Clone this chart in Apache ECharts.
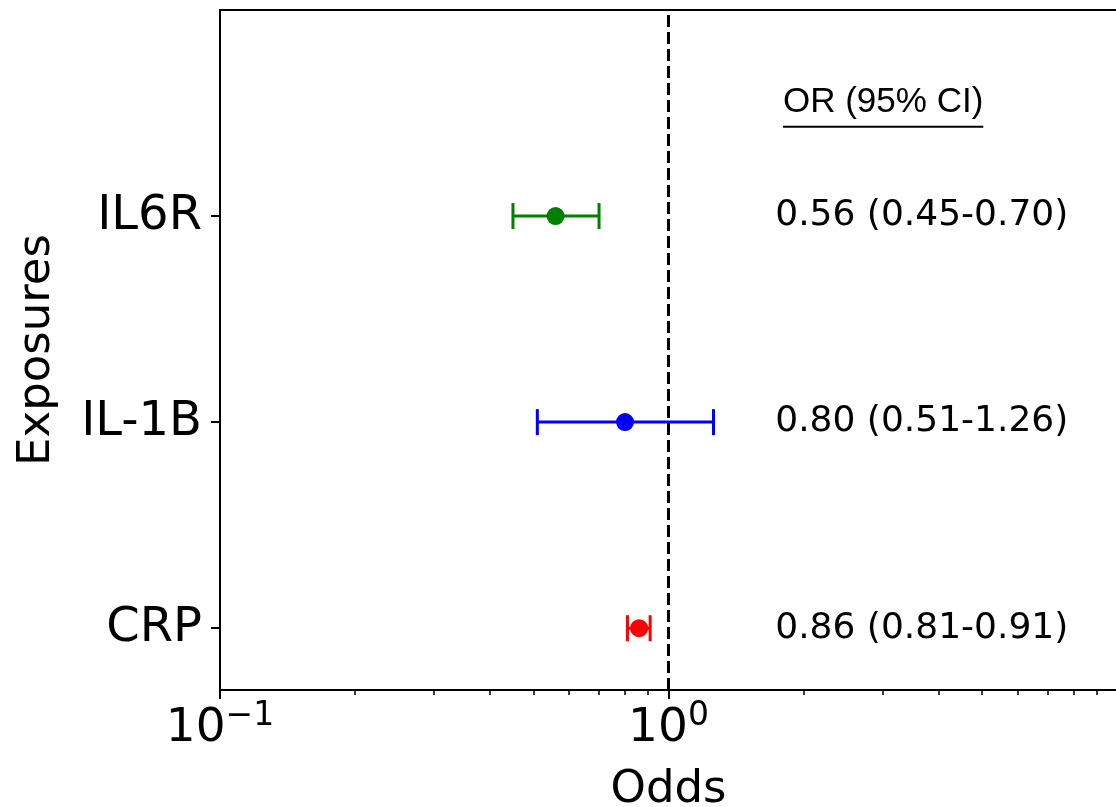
<!DOCTYPE html>
<html>
<head>
    <meta charset="utf-8">
    <title>Odds ratio forest plot</title>
    <script src="https://cdn.jsdelivr.net/npm/echarts@6/dist/echarts.min.js"></script>
</head>
<body style="margin: 0; background: #fff;">
    <div id="main" style="width: 1116px; height: 807px;"></div>
    <script type="text/javascript">
        // rows from bottom to top
        var exposures = ['CRP', 'IL-1B', 'IL6R'];
        var oddsRatio = [0.86, 0.80, 0.56];
        var ciLower = [0.81, 0.51, 0.45];
        var ciUpper = [0.91, 1.26, 0.70];
        var pointColors = ['#ff0000', '#0000ff', '#008000'];
        var orLabels = ['0.86 (0.81-0.91)', '0.80 (0.51-1.26)', '0.56 (0.45-0.70)'];
        var headerText = 'OR (95% CI)';
        var textX = 1.73;      // where the OR column starts (odds)
        var headerPos = [1.8, 2.55];
        var xMajor = [0.1, 1];
        var xMinor = [0.2, 0.3, 0.4, 0.5, 0.6, 0.7, 0.8, 0.9, 2, 3, 4, 5, 6, 7, 8, 9];
        var supers = { '0.1': '\u22121', '1': '0' };

        var FONT = '"DejaVu Sans", sans-serif';

        var dom = document.getElementById('main');
        var myChart = echarts.init(dom, null, { renderer: 'canvas' });

        var barData = exposures.map(function (name, i) {
            return [ciLower[i], ciUpper[i], i];
        });
        var pointData = exposures.map(function (name, i) {
            return { value: [oddsRatio[i], i], itemStyle: { color: pointColors[i], opacity: 1 } };
        });
        var textData = exposures.map(function (name, i) {
            return [textX, i];
        });

        var option = {
            animation: false,
            backgroundColor: '#fff',
            grid: {
                left: 220, top: 10, width: 897, height: 680,
                containLabel: false, outerBoundsMode: 'none',
                show: true, borderColor: '#000', borderWidth: 2
            },
            xAxis: [
                {
                    type: 'log', logBase: 10, min: 0.1, max: 10,
                    position: 'bottom',
                    name: 'Odds', nameLocation: 'middle', nameGap: 78,
                    nameTextStyle: { fontFamily: FONT, fontSize: 45, color: '#000' },
                    axisLine: { show: true, onZero: false, lineStyle: { color: '#000', width: 2 } },
                    axisTick: { show: true, inside: false, customValues: xMajor, length: 9, lineStyle: { color: '#000', width: 2 } },
                    axisLabel: {
                        customValues: xMajor, margin: 10,
                        formatter: function (v) {
                            var k = String(Math.round(v * 10) / 10);
                            return '{b|10}{s|' + supers[k] + '}';
                        },
                        rich: {
                            b: { fontFamily: FONT, fontSize: 47, color: '#000' },
                            s: { fontFamily: FONT, fontSize: 33, color: '#000', padding: [0, 0, 24, 0] }
                        }
                    },
                    splitLine: { show: false }
                },
                {
                    type: 'log', logBase: 10, min: 0.1, max: 10,
                    position: 'bottom',
                    axisLine: { show: false, onZero: false },
                    axisTick: { show: true, inside: false, customValues: xMinor, length: 5, lineStyle: { color: '#000', width: 1.5 } },
                    axisLabel: { show: false },
                    splitLine: { show: false }
                }
            ],
            yAxis: {
                type: 'value', min: -0.3, max: 3,
                name: 'Exposures', nameLocation: 'middle', nameGap: 160,
                nameTextStyle: { fontFamily: FONT, fontSize: 45, color: '#000' },
                axisLine: { show: true, onZero: false, lineStyle: { color: '#000', width: 2 } },
                axisTick: { show: true, customValues: [0, 1, 2], length: 9, lineStyle: { color: '#000', width: 2 } },
                axisLabel: {
                    customValues: [0, 1, 2], margin: 18,
                    fontFamily: FONT, fontSize: 48, color: '#000',
                    formatter: function (v) { return exposures[Math.round(v)] || ''; }
                },
                splitLine: { show: false }
            },
            series: [
                {
                    type: 'custom',
                    xAxisIndex: 0,
                    data: barData,
                    z: 2,
                    renderItem: function (params, api) {
                        var i = api.value(2);
                        var p0 = api.coord([api.value(0), i]);
                        var p1 = api.coord([api.value(1), i]);
                        var st = { stroke: pointColors[i], lineWidth: 3 };
                        var cap = 13;
                        return {
                            type: 'group',
                            children: [
                                { type: 'line', shape: { x1: p0[0], y1: p0[1], x2: p1[0], y2: p1[1] }, style: st },
                                { type: 'line', shape: { x1: p0[0], y1: p0[1] - cap, x2: p0[0], y2: p0[1] + cap }, style: st },
                                { type: 'line', shape: { x1: p1[0], y1: p1[1] - cap, x2: p1[0], y2: p1[1] + cap }, style: st }
                            ]
                        };
                    }
                },
                {
                    type: 'scatter',
                    xAxisIndex: 0,
                    data: pointData,
                    symbol: 'circle',
                    symbolSize: 18,
                    itemStyle: { opacity: 1 },
                    z: 3
                },
                {
                    type: 'custom',
                    xAxisIndex: 0,
                    data: textData,
                    z: 5,
                    renderItem: function (params, api) {
                        var i = api.value(1);
                        var p = api.coord([api.value(0), i]);
                        return {
                            type: 'text',
                            style: {
                                x: p[0], y: p[1], text: orLabels[i],
                                fill: '#000', font: '36px ' + FONT,
                                align: 'left', verticalAlign: 'middle'
                            }
                        };
                    },
                    markLine: {
                        silent: true,
                        symbol: 'none',
                        label: { show: false },
                        lineStyle: { color: '#000', width: 3, type: [12, 5] },
                        data: [{ xAxis: 1 }]
                    }
                },
                {
                    type: 'custom',
                    xAxisIndex: 0,
                    data: [headerPos],
                    z: 5,
                    renderItem: function (params, api) {
                        var p = api.coord([api.value(0), api.value(1)]);
                        var font = '35px "Liberation Sans", sans-serif';
                        var w = echarts.format.getTextRect
                            ? echarts.format.getTextRect(headerText, font).width
                            : 200;
                        return {
                            type: 'group',
                            children: [
                                {
                                    type: 'text',
                                    style: {
                                        x: p[0], y: p[1], text: headerText, fill: '#000',
                                        font: font, align: 'left', verticalAlign: 'middle'
                                    }
                                },
                                {
                                    type: 'line',
                                    shape: { x1: p[0], y1: p[1] + 24, x2: p[0] + w, y2: p[1] + 24 },
                                    style: { stroke: '#000', lineWidth: 2 }
                                }
                            ]
                        };
                    }
                }
            ]
        };

        myChart.setOption(option);
    </script>
</body>
</html>
